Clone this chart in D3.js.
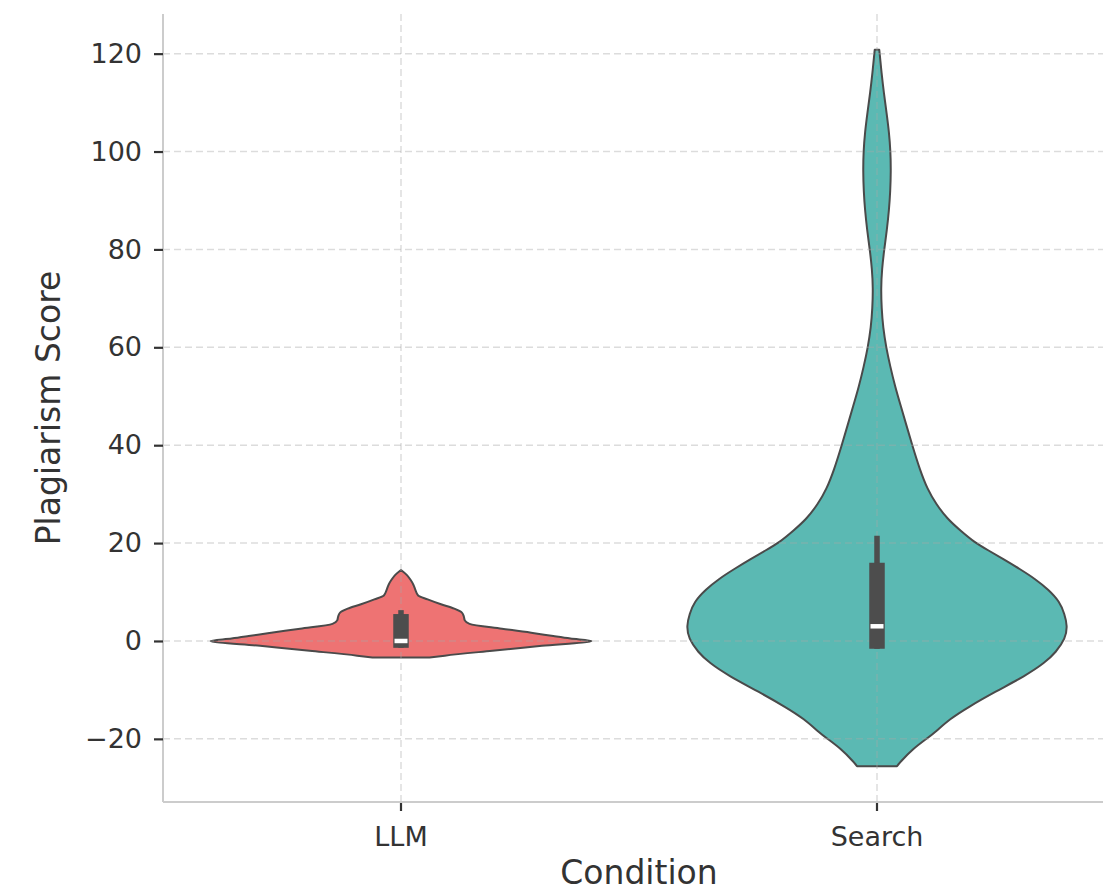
<!DOCTYPE html>
<html>
<head>
<meta charset="utf-8">
<script src="https://cdn.jsdelivr.net/npm/d3@7"></script>
<style>
  html, body { margin: 0; padding: 0; background: #ffffff; }
  svg { display: block; }
  text { font-family: "DejaVu Sans", sans-serif; }
</style>
</head>
<body>
<svg id="chart" width="1103" height="893"></svg>
<script>
// ---------------- data ----------------
const categories = ["LLM", "Search"];
const yTicks = [-20, 0, 20, 40, 60, 80, 100, 120];
const fillColors = ["#EE7373", "#5BB9B3"];

// violin outlines: score values and relative half-widths (0..1)
const llmScores = [-3.4, -3.0, -2.0, -1.0, 0.0, 0.5, 1.0, 1.6, 2.5, 3.5, 4.2, 5.0, 5.8, 6.6, 7.5, 8.5, 9.3, 10.5, 11.5, 12.5, 13.5, 14.5];
const llmWidths = [0.15, 0.23, 0.48, 0.74, 1.00, 0.89, 0.80, 0.70, 0.53, 0.36, 0.335, 0.33, 0.32, 0.28, 0.21, 0.14, 0.09, 0.075, 0.065, 0.05, 0.03, 0.0];

const searchScores = [-25.6, -24.8, -22, -20, -18.5, -16, -13.5, -10.4, -7.1, -4.5, -2.3, 0.5, 3.1, 5.5, 8.0, 10.5, 12.7, 14.7, 16.7, 18.5, 20.2, 22.5, 24.9, 28, 31, 35, 40, 44, 48, 52, 56, 60, 64, 68, 72, 76, 80, 84, 88, 92, 96, 100, 104, 108, 112, 116, 120.8];
const searchWidths = [0.105, 0.12, 0.19, 0.26, 0.31, 0.38, 0.48, 0.62, 0.78, 0.88, 0.94, 0.99, 1.0, 0.985, 0.96, 0.90, 0.83, 0.75, 0.665, 0.585, 0.51, 0.44, 0.37, 0.31, 0.265, 0.225, 0.185, 0.155, 0.125, 0.095, 0.07, 0.048, 0.032, 0.024, 0.021, 0.026, 0.038, 0.052, 0.063, 0.07, 0.073, 0.071, 0.063, 0.05, 0.036, 0.024, 0.012];

// inner box statistics per category
const boxQ1 = [-1.4, -1.6];
const boxMedian = [0, 3];
const boxQ3 = [5.5, 16];
const whiskerLow = [-1.4, -1.6];
const whiskerHigh = [6.3, 21.5];

// ---------------- chart ----------------
const svg = d3.select("#chart");
const plot = { left: 163, right: 1115, top: 14, bottom: 802 };

const x = d3.scaleBand().domain(categories).range([plot.left, plot.right]).padding(0);
const y = d3.scaleLinear().domain([-32.9, 128.1]).range([plot.bottom, plot.top]);
const w = d3.scaleLinear().domain([0, 1]).range([0, x.bandwidth() * 0.8 / 2]);

const violins = [
  { pts: d3.zip(llmScores, llmWidths), curve: d3.curveMonotoneY },
  { pts: d3.zip(searchScores, searchWidths), curve: d3.curveBasis }
];

const gViol = svg.append("g");
violins.forEach((v, i) => {
  const cx = x(categories[i]) + x.bandwidth() / 2;
  const area = d3.area()
    .curve(v.curve)
    .y(d => y(d[0]))
    .x0(d => cx - w(d[1]))
    .x1(d => cx + w(d[1]));
  gViol.append("path")
    .attr("d", area(v.pts))
    .attr("fill", fillColors[i])
    .attr("stroke", "#4a4a4a")
    .attr("stroke-width", 2)
    .attr("stroke-linejoin", "round");
});

// grid (drawn over violin bodies, as matplotlib does)
const gGrid = svg.append("g")
  .attr("stroke", "#a8a8a8")
  .attr("stroke-opacity", 0.4)
  .attr("stroke-width", 1.5)
  .attr("stroke-dasharray", "7,4");
yTicks.forEach(t => {
  gGrid.append("line")
    .attr("x1", plot.left).attr("x2", plot.right)
    .attr("y1", y(t)).attr("y2", y(t));
});
categories.forEach(c => {
  const cx = x(c) + x.bandwidth() / 2;
  gGrid.append("line")
    .attr("x1", cx).attr("x2", cx)
    .attr("y1", plot.top).attr("y2", plot.bottom);
});

// inner boxes
const gBox = svg.append("g");
categories.forEach((c, i) => {
  const cx = x(c) + x.bandwidth() / 2;
  gBox.append("line")
    .attr("x1", cx).attr("x2", cx)
    .attr("y1", y(whiskerLow[i])).attr("y2", y(whiskerHigh[i]))
    .attr("stroke", "#4d4d4d").attr("stroke-width", 5.5);
  gBox.append("line")
    .attr("x1", cx).attr("x2", cx)
    .attr("y1", y(boxQ1[i])).attr("y2", y(boxQ3[i]))
    .attr("stroke", "#4d4d4d").attr("stroke-width", 15.5);
  gBox.append("line")
    .attr("x1", cx - 6.5).attr("x2", cx + 6.5)
    .attr("y1", y(boxMedian[i])).attr("y2", y(boxMedian[i]))
    .attr("stroke", "#ffffff").attr("stroke-width", 4.5);
});

// spines
svg.append("line")
  .attr("x1", plot.left).attr("x2", plot.left)
  .attr("y1", plot.top).attr("y2", plot.bottom)
  .attr("stroke", "#cccccc").attr("stroke-width", 2);
svg.append("line")
  .attr("x1", plot.left).attr("x2", plot.right)
  .attr("y1", plot.bottom).attr("y2", plot.bottom)
  .attr("stroke", "#cccccc").attr("stroke-width", 2);

// axes
const yAxis = svg.append("g")
  .attr("transform", `translate(${plot.left},0)`)
  .call(d3.axisLeft(y).tickValues(yTicks).tickSize(9).tickPadding(12));
const xAxis = svg.append("g")
  .attr("transform", `translate(0,${plot.bottom})`)
  .call(d3.axisBottom(x).tickSize(9).tickPadding(16));

[yAxis, xAxis].forEach(g => {
  g.select(".domain").remove();
  g.selectAll(".tick line").attr("stroke", "#333333").attr("stroke-width", 2.2);
  g.selectAll(".tick text")
    .attr("fill", "#333333")
    .style("font-family", "'DejaVu Sans', sans-serif")
    .style("font-size", "27px");
});
xAxis.selectAll(".tick line").attr("y1", 1);

// axis titles
svg.append("text")
  .attr("x", (plot.left + plot.right) / 2)
  .attr("y", 884)
  .attr("text-anchor", "middle")
  .attr("fill", "#333333")
  .style("font-size", "33px")
  .text("Condition");
svg.append("text")
  .attr("transform", `translate(60,${(plot.top + plot.bottom) / 2}) rotate(-90)`)
  .attr("text-anchor", "middle")
  .attr("fill", "#333333")
  .style("font-size", "33px")
  .text("Plagiarism Score");
</script>
</body>
</html>
